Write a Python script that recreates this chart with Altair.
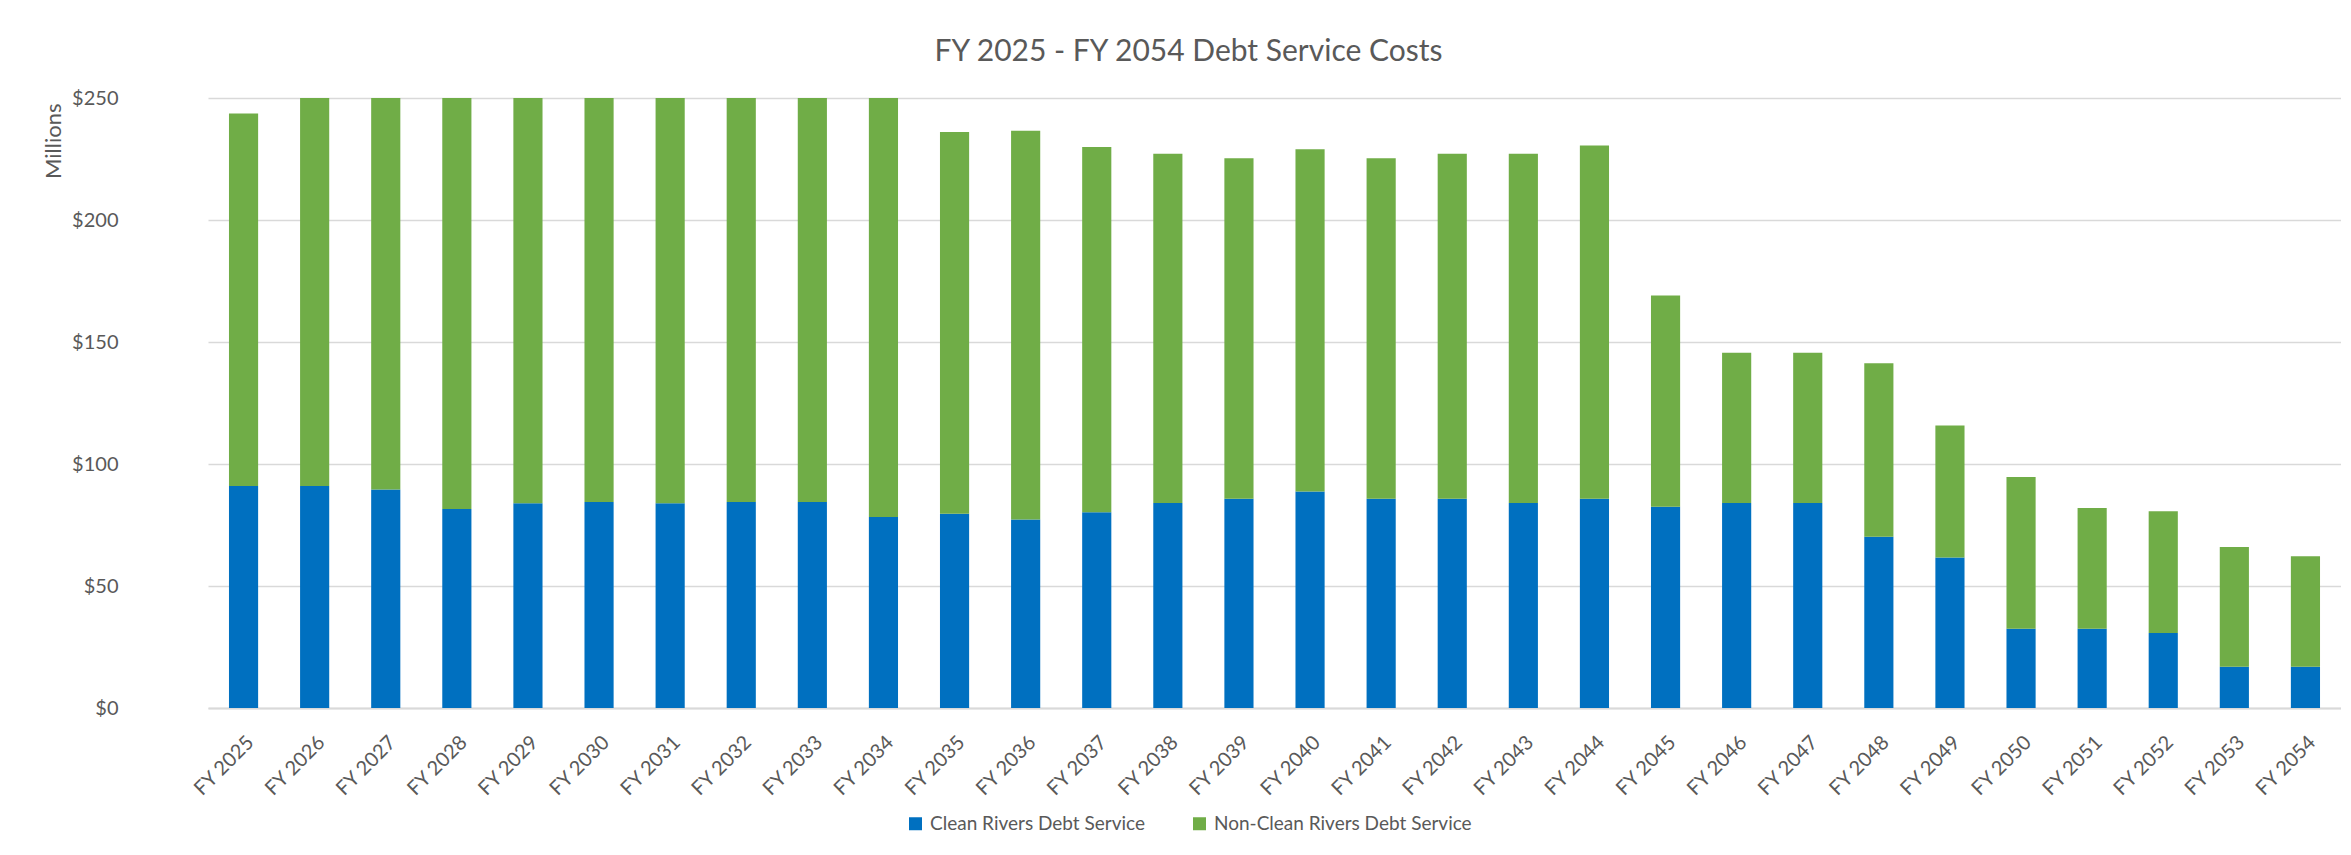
import altair as alt
import pandas as pd

years = ["FY 2025", "FY 2026", "FY 2027", "FY 2028", "FY 2029", "FY 2030",
         "FY 2031", "FY 2032", "FY 2033", "FY 2034", "FY 2035", "FY 2036",
         "FY 2037", "FY 2038", "FY 2039", "FY 2040", "FY 2041", "FY 2042",
         "FY 2043", "FY 2044", "FY 2045", "FY 2046", "FY 2047", "FY 2048",
         "FY 2049", "FY 2050", "FY 2051", "FY 2052", "FY 2053", "FY 2054"]

clean = [91.0, 91.0, 89.6, 81.6, 83.9, 84.4, 83.9, 84.4, 84.4, 78.3,
         79.6, 77.3, 80.2, 84.0, 85.8, 88.7, 85.8, 85.8, 84.0, 85.8,
         82.5, 84.0, 84.0, 70.2, 61.7, 32.5, 32.5, 30.7, 16.9, 16.9]

non_clean = [152.6, 159.0, 160.4, 168.4, 166.1, 165.6, 166.1, 165.6, 165.6, 171.7,
             156.5, 159.3, 149.7, 143.2, 139.5, 140.3, 139.5, 141.4, 143.2, 144.7,
             86.6, 61.6, 61.6, 71.1, 54.1, 62.2, 49.5, 49.9, 49.1, 45.3]

series = ["Clean Rivers Debt Service", "Non-Clean Rivers Debt Service"]
colors = ["#0070C0", "#70AD47"]
y_ticks = [0, 50, 100, 150, 200, 250]

rows = []
for yr, c, n in zip(years, clean, non_clean):
    rows.append({"year": yr, "series": series[0], "value": c, "rank": 0})
    rows.append({"year": yr, "series": series[1], "value": n, "rank": 1})
df = pd.DataFrame(rows)

W, H = 2203, 610
FONT = "Lato"
GREY = "#595959"

chart = alt.Chart(df).mark_bar().encode(
    x=alt.X(
        "year:N", sort=years, title=None,
        scale=alt.Scale(range=[70, W], paddingInner=0.59, paddingOuter=0.295),
        axis=alt.Axis(labelAngle=-45, labelFontSize=20, labelFont=FONT,
                      labelColor=GREY, ticks=False, tickSize=0, labelPadding=24,
                      domainColor="#d9d9d9", domainWidth=2, grid=False),
    ),
    y=alt.Y(
        "value:Q", stack="zero",
        scale=alt.Scale(domain=[0, 250], nice=False),
        axis=alt.Axis(values=y_ticks, format="$,.0f", title="Millions",
                      labelFontSize=20, labelFont=FONT, labelColor=GREY,
                      ticks=False, tickSize=0, labelPadding=20, domain=False,
                      gridColor="#d9d9d9", gridWidth=1.5,
                      titleFont=FONT, titleFontSize=22, titleColor=GREY,
                      titleFontWeight="normal", titleAngle=-90,
                      titleX=-85, titleY=5, titleAlign="right",
                      titleBaseline="middle"),
    ),
    color=alt.Color(
        "series:N",
        scale=alt.Scale(domain=series, range=colors),
        legend=alt.Legend(title=None, orient="none", legendX=768, legendY=716,
                          direction="horizontal", symbolType="square",
                          symbolSize=169, symbolStrokeWidth=0,
                          labelFont=FONT, labelFontSize=19, labelColor=GREY,
                          labelOffset=5, columnPadding=44, labelLimit=0),
    ),
    order=alt.Order("rank:Q"),
).properties(
    width=W,
    height=H,
    autosize=alt.AutoSizeParams(type="none"),
    padding={"left": 130, "top": 90, "right": 0, "bottom": 130},
    title=alt.TitleParams(
        "FY 2025 - FY 2054 Debt Service Costs",
        font=FONT, fontSize=30, fontWeight="normal", color=GREY,
        anchor="middle", dx=-51, dy=41, offset=38, baseline="alphabetic",
    ),
).configure_view(stroke=None)

chart.save("out.html", embed_options={"renderer": "svg", "actions": False})
